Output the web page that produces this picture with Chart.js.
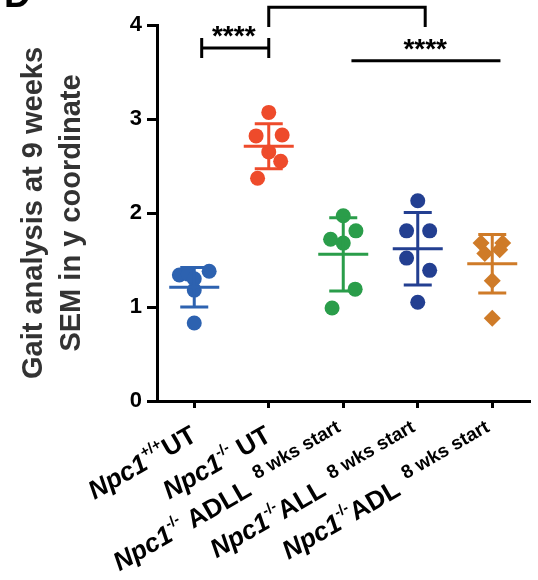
<!DOCTYPE html>
<html>
<head>
<meta charset="utf-8">
<script src="https://cdn.jsdelivr.net/npm/chart.js@4.4.1/dist/chart.umd.min.js"></script>
<style>
  html, body { margin: 0; padding: 0; background: #fff; }
  #wrap { width: 538px; height: 580px; }
</style>
</head>
<body>
<div id="wrap"><canvas id="c"></canvas></div>
<script>
const FONT = '"Liberation Sans", Arial, Helvetica, sans-serif';

// x categories, split up so the superscripts can be drawn
const labelGene = ['Npc1', 'Npc1', 'Npc1', 'Npc1', 'Npc1'];
const labelGenotype = ['+/+', '-/-', '-/-', '-/-', '-/-'];
const labelGroup = ['UT', ' UT', ' ADLL', 'ALL', 'ADL'];
const labelNote = ['', '', '8 wks start', '8 wks start', '8 wks start'];

const yTicks = [0, 1, 2, 3, 4];

// individual animals per group (value + horizontal scatter)
const wtUT = [1.34, 1.35, 1.38, 1.30, 1.18, 0.83];
const wtUTJit = [-0.2, -0.08, 0.2, 0, 0, 0];
const koUT = [3.07, 2.82, 2.83, 2.65, 2.55, 2.37];
const koUTJit = [0, -0.17, 0.18, 0, 0.16, -0.15];
const koADLL = [1.97, 1.81, 1.72, 1.68, 1.19, 0.99];
const koADLLJit = [0, 0.17, -0.17, 0, 0.16, -0.15];
const koALL = [2.13, 1.81, 1.81, 1.52, 1.39, 1.05];
const koALLJit = [0, -0.15, 0.16, -0.15, 0.16, 0];
const koADL = [1.68, 1.68, 1.57, 1.61, 1.28, 0.88];
const koADLJit = [-0.15, 0.14, -0.1, 0.1, 0, 0];

// mean +/- SD
const means = [1.21, 2.71, 1.56, 1.62, 1.46];
const sds = [0.21, 0.24, 0.39, 0.385, 0.31];

const colors = ['#2d62b0', '#ee4b2b', '#2a9d4a', '#233f91', '#cf7b28'];
const shapes = ['circle', 'circle', 'circle', 'circle', 'rectRot'];

// significance marks (x in category units, y in data units)
const brackets = [
  { x1: 0.1, x2: 1.0, y: 3.755, kind: 'cap' },
  { x1: 1.0, x2: 3.1, y: 4.19, legTo: 3.98, kind: 'leg' },
  { x1: 2.11, x2: 4.11, y: 3.62, kind: 'line' }
];
const stars = [
  { x: 0.53, y: 3.755, text: '****' },
  { x: 3.1, y: 3.62, text: '****' }
];

const series = [wtUT, koUT, koADLL, koALL, koADL];
const jitters = [wtUTJit, koUTJit, koADLLJit, koALLJit, koADLJit];

const datasets = series.map((vals, g) => ({
  data: vals.map((v, i) => ({ x: g + jitters[g][i], y: v })),
  backgroundColor: colors[g],
  borderWidth: 0,
  pointStyle: shapes[g],
  pointRadius: shapes[g] === 'rectRot' ? 8.5 : 7.5,
  showLine: false
}));

function drawLabel(ctx, i, px) {
  const parts = [
    { t: labelGene[i], f: 'italic bold 26px ' + FONT, dy: 0 },
    { t: labelGenotype[i], f: 'bold 15px ' + FONT, dy: -12 },
    { t: labelGroup[i], f: 'bold 26px ' + FONT, dy: 0 }
  ];
  if (labelNote[i]) parts.push({ t: '  ' + labelNote[i], f: 'bold 19px ' + FONT, dy: -11 });
  let W = 0;
  parts.forEach(p => { ctx.font = p.f; p.w = ctx.measureText(p.t).width; W += p.w; });
  ctx.save();
  ctx.translate(px + 4, 440);
  ctx.rotate(-Math.PI / 6);
  ctx.fillStyle = '#000';
  ctx.textBaseline = 'alphabetic';
  ctx.textAlign = 'left';
  let cur = -W;
  parts.forEach(p => { ctx.font = p.f; ctx.fillText(p.t, cur, p.dy); cur += p.w; });
  ctx.restore();
}

const extras = {
  id: 'extras',
  afterDatasetsDraw(chart) {
    const { ctx, scales: { x, y } } = chart;
    ctx.save();
    ctx.lineWidth = 3;
    means.forEach((m, i) => {
      const cx = x.getPixelForValue(i);
      const ym = y.getPixelForValue(m);
      const yt = y.getPixelForValue(m + sds[i]);
      const yb = y.getPixelForValue(m - sds[i]);
      ctx.strokeStyle = colors[i];
      ctx.beginPath();
      ctx.moveTo(cx - 25, ym); ctx.lineTo(cx + 25, ym);
      ctx.moveTo(cx, yt); ctx.lineTo(cx, yb);
      ctx.moveTo(cx - 14, yt); ctx.lineTo(cx + 14, yt);
      ctx.moveTo(cx - 14, yb); ctx.lineTo(cx + 14, yb);
      ctx.stroke();
    });
    ctx.restore();
  },
  afterDraw(chart) {
    const { ctx, scales: { x, y } } = chart;
    ctx.save();

    // brackets
    ctx.strokeStyle = '#000';
    ctx.lineWidth = 3;
    brackets.forEach(b => {
      const x1 = x.getPixelForValue(b.x1), x2 = x.getPixelForValue(b.x2);
      const yy = y.getPixelForValue(b.y);
      ctx.beginPath();
      if (b.kind === 'cap') {
        ctx.moveTo(x1, yy); ctx.lineTo(x2, yy);
        ctx.moveTo(x1, yy - 10); ctx.lineTo(x1, yy + 10);
        ctx.moveTo(x2, yy - 10); ctx.lineTo(x2, yy + 10);
      } else if (b.kind === 'leg') {
        const yl = y.getPixelForValue(b.legTo);
        ctx.moveTo(x1, yl); ctx.lineTo(x1, yy); ctx.lineTo(x2, yy); ctx.lineTo(x2, yl);
      } else {
        ctx.moveTo(x1, yy); ctx.lineTo(x2, yy);
      }
      ctx.stroke();
    });
    ctx.fillStyle = '#000';
    ctx.font = 'bold 28px ' + FONT;
    ctx.textAlign = 'center';
    ctx.textBaseline = 'alphabetic';
    stars.forEach(s => ctx.fillText(s.text, x.getPixelForValue(s.x), y.getPixelForValue(s.y) - 3));

    // x labels
    labelGene.forEach((g, i) => drawLabel(ctx, i, x.getPixelForValue(i)));

    // y title
    const cy = (chart.chartArea.top + chart.chartArea.bottom) / 2;
    ctx.fillStyle = '#333';
    ctx.font = 'bold 29px ' + FONT;
    ctx.textAlign = 'center';
    ctx.save();
    ctx.translate(42, cy); ctx.rotate(-Math.PI / 2);
    ctx.fillText('Gait analysis at 9 weeks', 0, 0);
    ctx.restore();
    ctx.save();
    ctx.translate(80, cy); ctx.rotate(-Math.PI / 2);
    ctx.fillText('SEM in y coordinate', 0, 0);
    ctx.restore();

    // panel letter (cut at the top)
    ctx.fillStyle = '#000';
    ctx.font = 'bold 37px ' + FONT;
    ctx.textAlign = 'left';
    ctx.fillText('D', 4, 7);
    ctx.restore();
  }
};

new Chart(document.getElementById('c'), {
  type: 'scatter',
  data: { datasets },
  options: {
    responsive: true,
    maintainAspectRatio: false,
    animation: false,
    layout: { padding: { top: 25, right: 6, left: 0, bottom: 0 } },
    plugins: { legend: { display: false }, tooltip: { enabled: false } },
    scales: {
      x: {
        type: 'linear',
        min: -0.5,
        max: 4.5,
        afterBuildTicks: s => { s.ticks = labelGene.map((_, i) => ({ value: i })); },
        afterFit: s => { s.height = 179; },
        ticks: { display: false },
        grid: { drawOnChartArea: false, drawTicks: true, tickLength: 7, color: '#000', lineWidth: 3 },
        border: { display: true, color: '#000', width: 3 }
      },
      y: {
        min: 0,
        max: 4,
        afterBuildTicks: s => { s.ticks = yTicks.map(v => ({ value: v })); },
        afterFit: s => { s.width = 157; },
        ticks: { color: '#000', font: { family: FONT, size: 22, weight: 'bold' }, padding: 5 },
        grid: { drawOnChartArea: false, drawTicks: true, tickLength: 10, color: '#000', lineWidth: 3 },
        border: { display: true, color: '#000', width: 3 }
      }
    }
  },
  plugins: [extras]
});
</script>
</body>
</html>
